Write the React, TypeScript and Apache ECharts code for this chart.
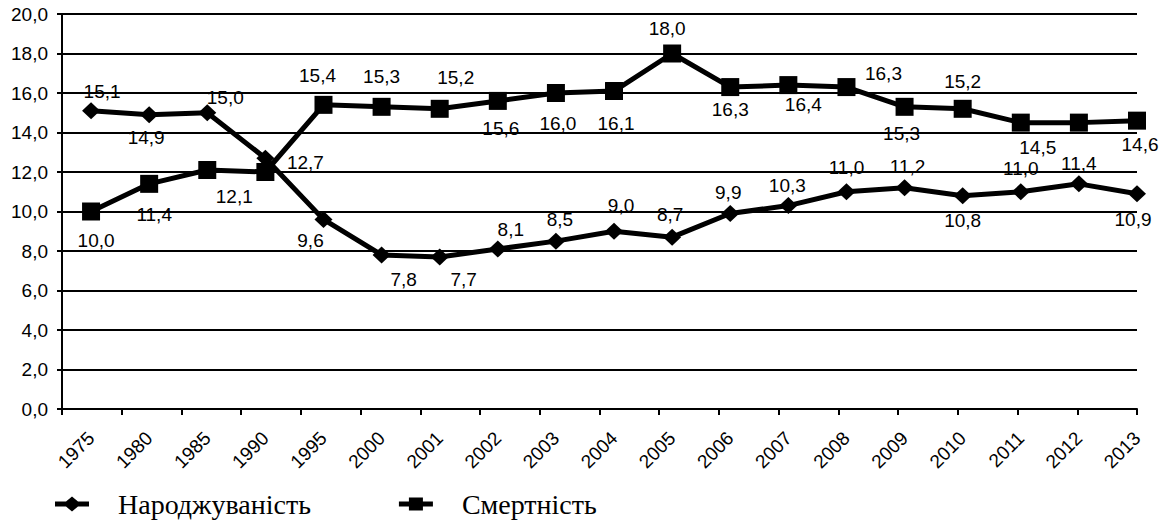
import React, { useEffect, useRef } from "react";
import * as echarts from "echarts";

const years = ["1975", "1980", "1985", "1990", "1995", "2000", "2001", "2002", "2003", "2004", "2005", "2006", "2007", "2008", "2009", "2010", "2011", "2012", "2013"];
const births = [15.1, 14.9, 15.0, 12.7, 9.6, 7.8, 7.7, 8.1, 8.5, 9.0, 8.7, 9.9, 10.3, 11.0, 11.2, 10.8, 11.0, 11.4, 10.9];
const deaths = [10.0, 11.4, 12.1, 12.0, 15.4, 15.3, 15.2, 15.6, 16.0, 16.1, 18.0, 16.3, 16.4, 16.3, 15.3, 15.2, 14.5, 14.5, 14.6];
const yTicks = [0, 2, 4, 6, 8, 10, 12, 14, 16, 18, 20];
const birthName = "Народжуваність";
const deathName = "Смертність";

// label placement (style only): offset from marker centre, null = hidden
const birthLabelOffsets: ([number, number] | null)[] = [
  [11, -19], [-3, 23], [18, -15], [40, 4], [-13, 21], [22, 25], [24, 23], [13, -20], [4, -22], [7, -26],
  [-2, -23], [-2, -21], [-1, -20], [0, -24], [3, -21], [0, 25], [0, -23], [0, -20], [-4, 26],
];
const deathLabelOffsets: ([number, number] | null)[] = [
  [5, 29], [5, 31], [27, 26], null, [-6, -29], [0, -30], [16, -31], [3, 28], [2, 30], [2, 32],
  [-5, -25], [0, 22], [15, 19], [37, -14], [-3, 27], [0, -27], [17, 25], null, [3, 24],
];

const fmt = (v: number) => v.toFixed(1).replace(".", ",");
const SANS = "Arial, 'Liberation Sans', sans-serif";
const SERIF = "'Liberation Serif', 'DejaVu Serif', serif";
const NUM_SIZE = 19;
const ICON_DIAMOND = "path://M0,5 H11 L17,0 L23,5 H34 V10 H23 L17,15 L11,10 H0 Z";
const ICON_SQUARE = "path://M0,5 H10 V1 H24 V5 H34 V10 H24 V14 H10 V10 H0 Z";

function buildData(values: number[], offsets: ([number, number] | null)[]) {
  return values.map((v, i) => {
    const off = offsets[i];
    return {
      value: [i, v],
      label: off ? { show: true, offset: off } : { show: false },
    };
  });
}

export default function App() {
  const ref = useRef<HTMLDivElement>(null);
  useEffect(() => {
    if (!ref.current) return;
    const chart = echarts.init(ref.current, undefined, { renderer: "svg" });
    const xMin = -0.5;
    const xMax = years.length - 1;
    const tickVals = years.map((_, k) => xMin + (k * (xMax - xMin)) / (years.length - 1));
    const labelBase = {
      show: true,
      position: "inside",
      color: "#000",
      fontSize: NUM_SIZE,
      fontFamily: SANS,
      formatter: (p: any) => fmt(p.value[1]),
    };
    chart.setOption({
      animation: false,
      backgroundColor: "#fff",
      grid: { left: 62, right: 37, top: 14, bottom: 113 },
      xAxis: {
        type: "value",
        min: xMin,
        max: xMax,
        axisLine: { show: true, onZero: false, lineStyle: { color: "#000", width: 2 } },
        axisTick: { show: true, customValues: tickVals, length: 6, lineStyle: { color: "#000", width: 2 } },
        axisLabel: {
          customValues: years.map((_, i) => i),
          rotate: 45,
          margin: 26,
          color: "#000",
          fontSize: NUM_SIZE,
          fontFamily: SANS,
          formatter: (v: number) => years[Math.round(v)] ?? "",
        },
        splitLine: { show: false },
      },
      yAxis: {
        type: "value",
        min: yTicks[0],
        max: yTicks[yTicks.length - 1],
        interval: 2,
        axisLine: { show: true, onZero: false, lineStyle: { color: "#000", width: 2 } },
        axisTick: { show: true, length: 5, lineStyle: { color: "#000", width: 2 } },
        axisLabel: { color: "#000", fontSize: NUM_SIZE, fontFamily: SANS, margin: 14, formatter: (v: number) => fmt(v) },
        splitLine: { show: true, lineStyle: { color: "#000", width: 2 } },
      },
      legend: {
        show: true,
        left: 50,
        top: 485,
        itemWidth: 34,
        itemHeight: 15,
        itemGap: 88,
        itemStyle: { color: "#000", borderWidth: 0 },
        textStyle: { color: "#000", fontSize: 28, fontFamily: SERIF, padding: [0, 0, 0, 24] },
        data: [
          { name: birthName, icon: ICON_DIAMOND },
          { name: deathName, icon: ICON_SQUARE },
        ],
      },
      series: [
        {
          name: birthName,
          type: "line",
          data: buildData(births, birthLabelOffsets),
          symbol: "diamond",
          symbolSize: [18, 17],
          lineStyle: { color: "#000", width: 5 },
          itemStyle: { color: "#000" },
          label: labelBase,
          z: 3,
        },
        {
          name: deathName,
          type: "line",
          data: buildData(deaths, deathLabelOffsets),
          symbol: "rect",
          symbolSize: 18,
          lineStyle: { color: "#000", width: 5 },
          itemStyle: { color: "#000" },
          label: labelBase,
          z: 3,
        },
      ],
    });
    return () => chart.dispose();
  }, []);
  return <div ref={ref} style={{ position: "fixed", left: 0, top: 0, width: 1174, height: 522, background: "#fff" }} />;
}
